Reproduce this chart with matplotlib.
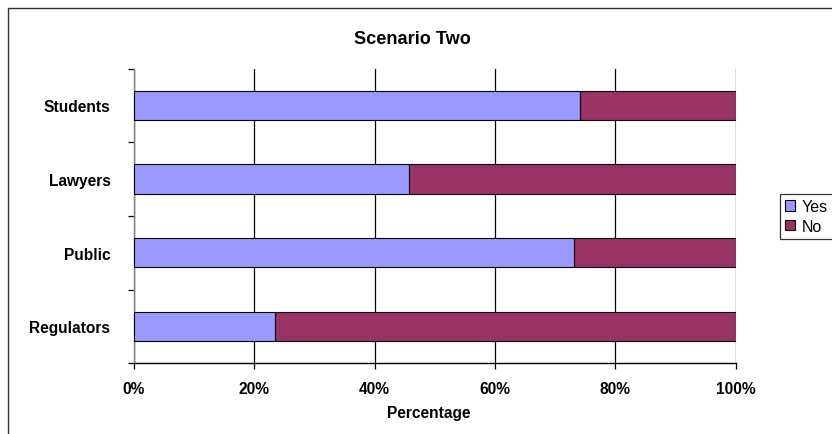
import matplotlib
matplotlib.use("Agg")
import matplotlib.pyplot as plt
from matplotlib.patches import Rectangle, Patch
from matplotlib.ticker import FixedLocator, PercentFormatter

categories = ["Students", "Lawyers", "Public", "Regulators"]
yes_pct = [74.1, 45.8, 73.2, 23.5]
no_pct = [100 - v for v in yes_pct]
x_ticks = [0, 20, 40, 60, 80, 100]

YES_COLOR = "#9999FF"
NO_COLOR = "#993366"
FONT = "Liberation Sans"
LABEL_SIZE = 11.2

W, H = 832, 435
fig = plt.figure(figsize=(W / 100, H / 100), dpi=100)
fig.patch.set_facecolor("white")

# chart-area frame (runs off the right and bottom edges)
fig.patches.append(Rectangle((8 / W, -0.05), 1.0, 1 - 9 / H + 0.05,
                             transform=fig.transFigure, fill=False,
                             edgecolor="#303030", linewidth=1.0))

left, right = 134 / W, 735.5 / W
top, bottom = 1 - 69.5 / H, 1 - 364.3 / H
ax = fig.add_axes([left, bottom, right - left, top - bottom])

y = list(range(len(categories)))
ax.barh(y, yes_pct, height=0.4, color=YES_COLOR, edgecolor="black",
        linewidth=0.8, label="Yes", zorder=3)
ax.barh(y, no_pct, left=yes_pct, height=0.4, color=NO_COLOR,
        edgecolor="black", linewidth=0.8, label="No", zorder=3)

ax.set_xlim(0, 100)
ax.set_ylim(len(categories) - 0.5, -0.5)

ax.set_xticks(x_ticks)
ax.xaxis.set_major_formatter(PercentFormatter(decimals=0))
ax.grid(axis="x", color="black", linewidth=0.9, zorder=0)
ax.set_axisbelow(True)

ax.set_yticks(y)
ax.set_yticklabels(categories)
ax.yaxis.set_minor_locator(FixedLocator([i - 0.5 for i in range(len(categories) + 1)]))
ax.tick_params(axis="y", which="major", length=0, pad=17)
ax.tick_params(axis="y", which="minor", length=4, width=0.9, color="black", direction="out")
ax.tick_params(axis="x", which="major", length=4, width=0.9, color="black",
               direction="out", pad=9)

for lbl in ax.get_xticklabels() + ax.get_yticklabels():
    lbl.set_fontfamily(FONT)
    lbl.set_fontweight("bold")
    lbl.set_fontsize(LABEL_SIZE)

for side in ("top", "right"):
    ax.spines[side].set_visible(False)
ax.spines["left"].set_color("#808080")
ax.spines["left"].set_linewidth(1.0)
ax.spines["bottom"].set_color("black")
ax.spines["bottom"].set_linewidth(1.0)

ax.set_xlabel("Percentage", fontfamily=FONT, fontweight="bold", fontsize=LABEL_SIZE)
ax.xaxis.set_label_coords(0.49, -0.142)

fig.text(412 / W, 1 - 39 / H, "Scenario Two", ha="center", va="center",
         fontfamily=FONT, fontweight="bold", fontsize=13.1)

handles = [Patch(facecolor=YES_COLOR, edgecolor="black", linewidth=0.8, label="Yes"),
           Patch(facecolor=NO_COLOR, edgecolor="black", linewidth=0.8, label="No")]
leg = fig.legend(handles=handles, loc="upper left",
                 bbox_to_anchor=(780 / W, 1 - 195 / H),
                 prop={"family": FONT, "size": 11.5},
                 frameon=True, fancybox=False, edgecolor="black",
                 borderpad=0.32, labelspacing=0.3, handlelength=0.6,
                 handleheight=0.6, handletextpad=0.45, borderaxespad=0)
leg.get_frame().set_linewidth(0.9)

fig.savefig("out.png", dpi=100)
